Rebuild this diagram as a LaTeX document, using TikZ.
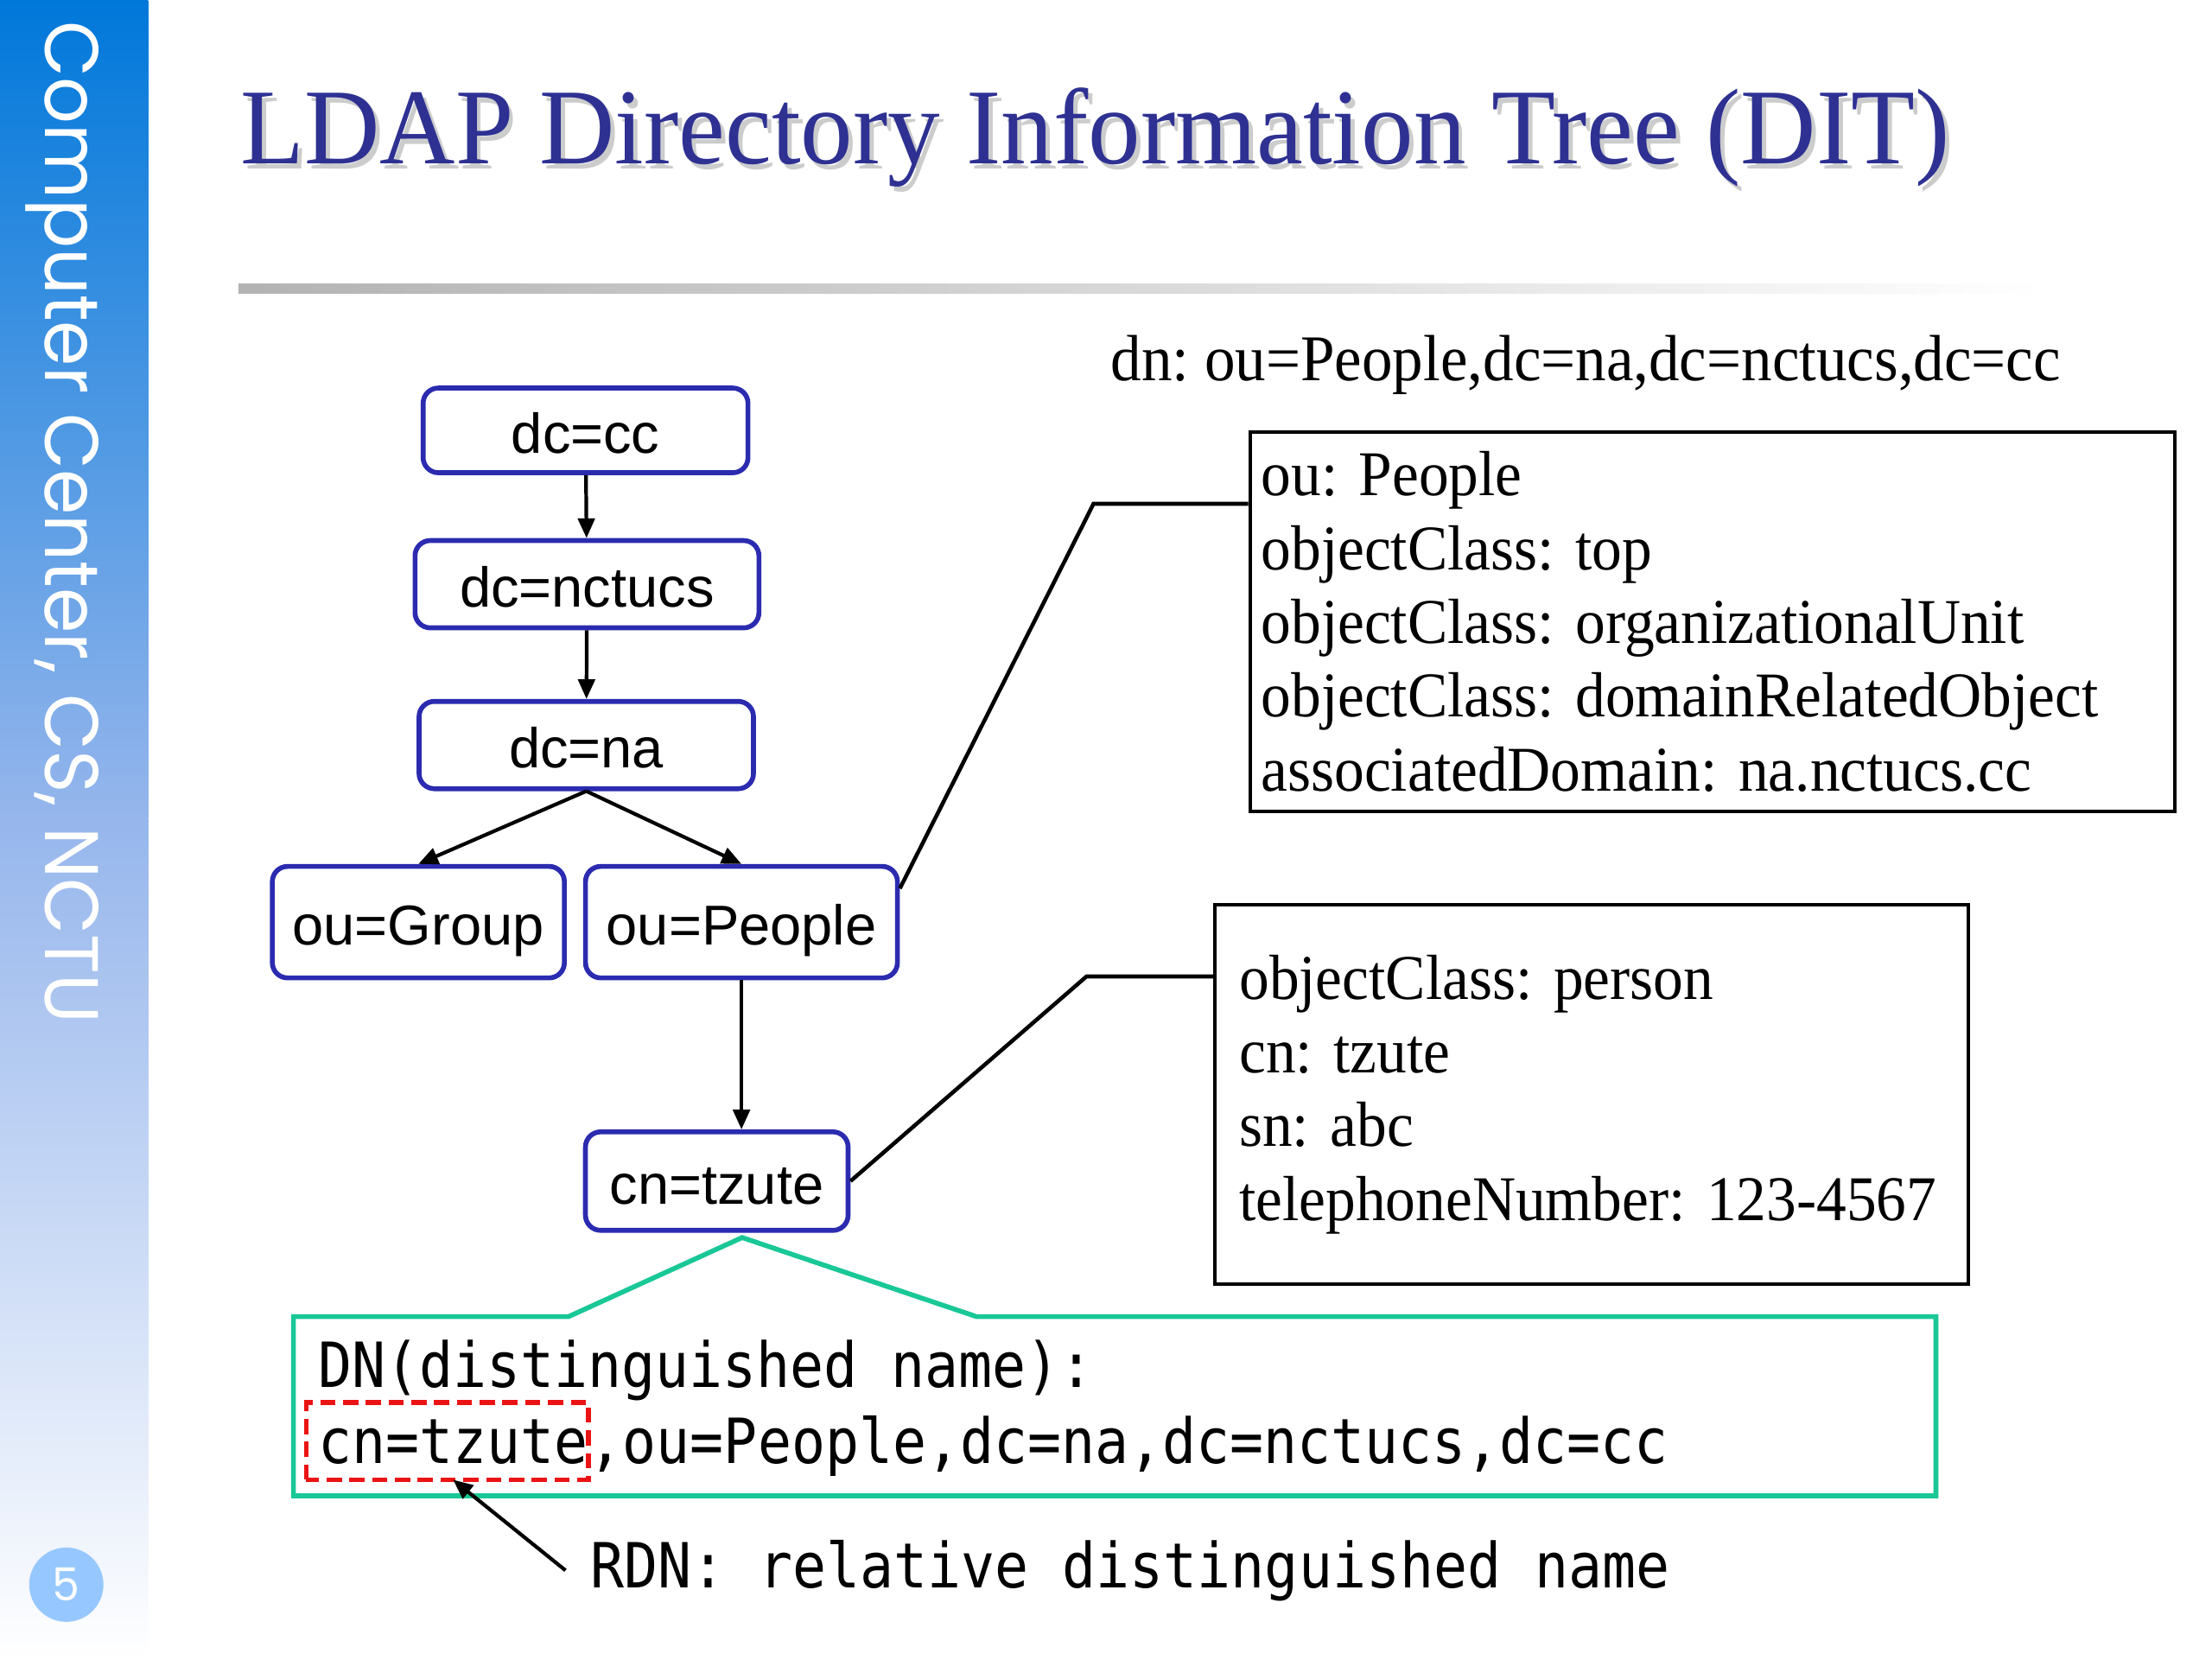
\documentclass[tikz,border=0pt]{standalone}
\usepackage{fontspec}
\setmainfont{Liberation Serif}
\newfontfamily\titlefont[FakeStretch=0.97]{Liberation Serif}
\newfontfamily\entryfont[FakeStretch=0.94]{Liberation Serif}
\newfontfamily\treefont{Liberation Sans}
\newfontfamily\codefont[FakeStretch=0.9]{DejaVu Sans Mono}
\newfontfamily\sidefont[FakeStretch=0.96]{Poppins}
\usepackage{xcolor}
\definecolor{sideblue}{RGB}{0, 120, 218}
\definecolor{sidemid}{RGB}{150, 182, 236}
\definecolor{titleblue}{RGB}{46, 49, 146}
\definecolor{nodeblue}{RGB}{43, 43, 176}
\definecolor{dngreen}{RGB}{25, 200, 150}
\definecolor{rdnred}{RGB}{235, 20, 20}
\definecolor{pageblue}{RGB}{150, 200, 255}
\usepackage{tikz}
\usetikzlibrary{
    arrows.meta,
    positioning,
    calc
}
\frenchspacing
\tikzstyle{treenode} = [
    draw=nodeblue,
    line width=1.6pt,
    rounded corners=5pt,
    fill=white,
    inner sep=0pt,
    text height=15pt,
    text depth=0pt,
    font=\treefont\fontsize{18.5}{20}\selectfont
]
\tikzstyle{entrybox} = [
    draw=black,
    line width=1.2pt,
    align=left,
    minimum height=4.39cm,
    font=\entryfont\fontsize{21}{24.3}\selectfont
]
\tikzstyle{codetext} = [
    anchor=base west,
    inner sep=0pt,
    font=\codefont\fontsize{20.5}{24}\selectfont
]
\tikzstyle{arrow} = [
    -{Triangle[length=6.5pt,width=5.5pt]},
    line width=1.2pt
]
\tikzstyle{link} = [
    line width=1.3pt
]

\begin{document}
\begin{tikzpicture}[x=0.1633mm, y=-0.1633mm]
        \useasboundingbox (0,0) rectangle (1567.7,1175.8);
        \fill[white] (0,0) rectangle (1567.7,1175.8);

        % Side bar
        \shade[top color=sideblue, bottom color=sidemid] (0,0) rectangle (105,580);
        \shade[top color=sidemid, bottom color=white] (0,580) rectangle (105,1175.8);
        \node[rotate=-90, anchor=base, inner sep=0pt, text=white,
              font=\sidefont\fontsize{25}{25}\selectfont] (sidelabel) at (32,370)
            {Computer Center, CS, NCTU};
        \node[circle, fill=pageblue, minimum size=0.86cm, inner sep=0pt, text=white,
              font=\sidefont\fontsize{15}{15}\selectfont] (pagenum) at (47,1123) {5};

        % Title
        \node[anchor=base west, inner sep=0pt, text=gray!40,
              font=\titlefont\fontsize{35.5}{36}\selectfont] (titleshadow) at (173,119.5)
            {LDAP Directory Information Tree (DIT)};
        \node[anchor=base west, inner sep=0pt, text=titleblue,
              font=\titlefont\fontsize{35.5}{36}\selectfont] (title) at (170,116)
            {LDAP Directory Information Tree (DIT)};
        \shade[left color=gray!60, right color=white] (169,201) rectangle (1450,208);

        % Tree
        \node[treenode, minimum width=3.76cm, minimum height=0.98cm] (dccc) at (415,305) {dc=cc};
        \node[treenode, minimum width=3.98cm, minimum height=1.01cm] (dcnctucs) at (416,414) {dc=nctucs};
        \node[treenode, minimum width=3.87cm, minimum height=1.01cm] (dcna) at (415.5,528) {dc=na};
        \node[treenode, minimum width=3.38cm, minimum height=1.29cm] (ougroup) at (296.5,653.5) {ou=Group};
        \node[treenode, minimum width=3.61cm, minimum height=1.29cm] (oupeople) at (525.5,653.5) {ou=People};
        \node[treenode, minimum width=3.04cm, minimum height=1.14cm] (cntzute) at (508,837) {cn=tzute};

        \draw[arrow] (dccc) -- (dcnctucs);
        \draw[arrow] (dcnctucs) -- (dcna);
        \draw[arrow] (dcna.south) -- (ougroup.north);
        \draw[arrow] (dcna.south) -- (oupeople.north);
        \draw[arrow] (oupeople.south) -- (oupeople.south |- cntzute.north);

        % Entries
        \node[anchor=base west, inner sep=0pt,
              font=\entryfont\fontsize{21.5}{24}\selectfont] (dnline) at (787,270)
            {dn: ou=People,dc=na,dc=nctucs,dc=cc};
        \node[entrybox, minimum width=10.70cm, inner xsep=3.3pt, text width=297pt] (peopleinfo) at (1213.5,440.5)
            {ou: People\\objectClass: top\\objectClass: organizationalUnit\\objectClass: domainRelatedObject\\associatedDomain: na.nctucs.cc};
        \node[entrybox, minimum width=8.72cm, inner xsep=8pt, text width=232pt] (personinfo) at (1128,775.5)
            {objectClass: person\\cn: tzute\\sn: abc\\telephoneNumber: 123-4567};

        \coordinate (peoplebend) at (775,357);
        \coordinate (personbend) at (770,692);
        \draw[link] (oupeople.12) -- (peoplebend) -- (peoplebend -| peopleinfo.west);
        \draw[link] (cntzute.east) -- (personbend) -- (personbend -| personinfo.west);

        % Distinguished name
        \draw[dngreen, line width=1.6pt]
            (208,933) -- (403,933) -- (526,877) -- (692,933) -- (1372,933) -- (1372,1060) -- (208,1060) -- cycle;
        \node[codetext] (dnlabel) at (225,983) {DN(distinguished name):};
        \node[codetext, text height=19.8pt, text depth=5.2pt] (rdn) at (225,1037) {cn=tzute};
        \node[codetext] (dnrest) at (rdn.base east) {,ou=People,dc=na,dc=nctucs,dc=cc};
        \draw[rdnred, line width=1.6pt, dash pattern=on 5pt off 2.5pt]
            ([xshift=-3.7pt]rdn.south west) rectangle (rdn.north east);

        \node[codetext] (rdnlabel) at (418,1125) {RDN: relative distinguished name};
        \draw[arrow] ([xshift=-8pt]rdnlabel.west) -- (rdn.south);
    \end{tikzpicture}
\end{document}
